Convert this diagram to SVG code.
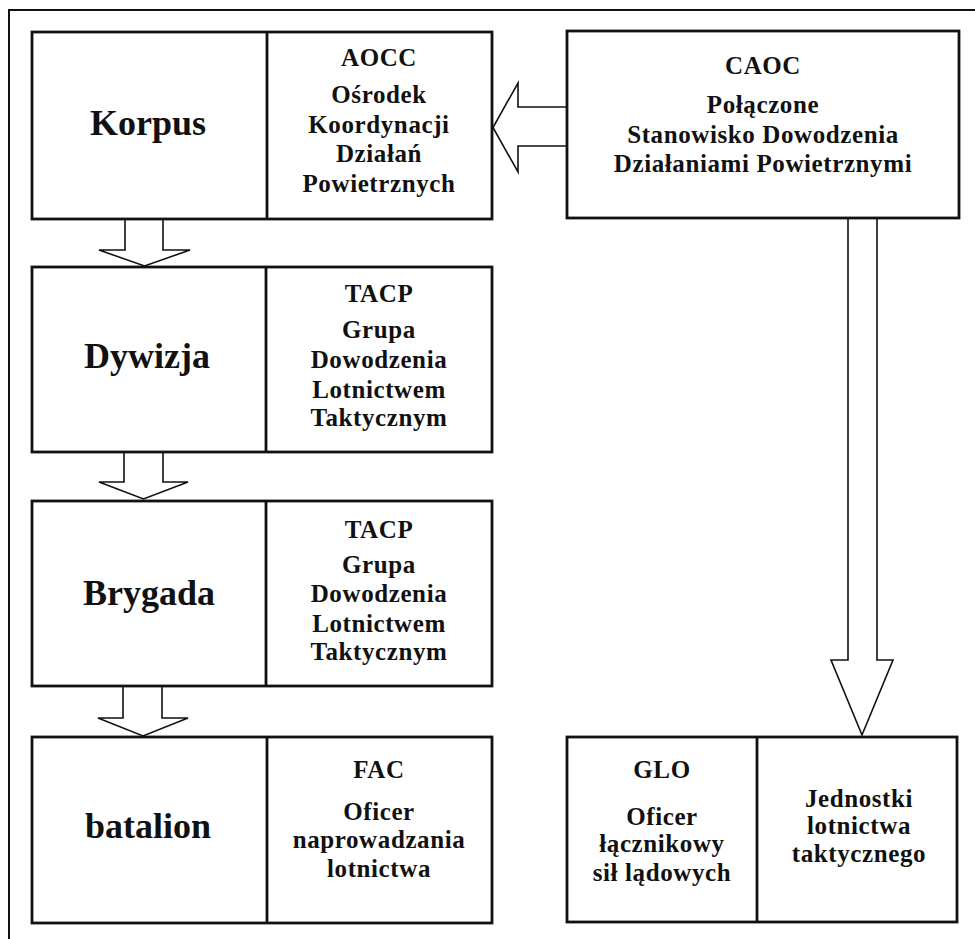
<svg xmlns="http://www.w3.org/2000/svg" width="975" height="939" viewBox="0 0 975 939">
<style>
.box{fill:#fff;stroke:#111;stroke-width:2.8}
.div{stroke:#111;stroke-width:2.8}
.arr{fill:#fff;stroke:#111;stroke-width:1.6;stroke-linejoin:miter}
.frame{fill:none;stroke:#111;stroke-width:2}
text{font-family:"Liberation Serif","DejaVu Serif",serif;font-weight:bold;fill:#111;text-anchor:middle}
.big{font-size:36px}
.sm{font-size:25px;letter-spacing:0.6px}
</style>
<rect width="975" height="939" fill="#fff"/>
<path class="frame" d="M9,939 V10 H975"/>
<g id="connectors">
<path class="arr" d="M125,219 V250 H99 L144.5,266 L190,250 H163 V219"/>
<path class="arr" d="M124,452 V482 H99 L143.5,499 L188,482 H163 V452"/>
<path class="arr" d="M123,686 V718 H98 L143,736 L188,718 H162 V686"/>
<path class="arr" d="M567,107 H518 V83 L493,127.5 L518,172 V146 H567"/>
<path class="arr" d="M848,218 V660 H831 L862,735 L893,660 H877 V218"/>
</g>
<g id="korpus">
<rect class="box" x="32" y="32" width="460" height="187"/>
<line class="div" x1="267" y1="32" x2="267" y2="219"/>
<text class="big" x="148" y="135">Korpus</text>
<text class="sm" x="379" y="66">AOCC</text>
<text class="sm" x="379" y="103">Ośrodek</text>
<text class="sm" x="379" y="133">Koordynacji</text>
<text class="sm" x="379" y="162">Działań</text>
<text class="sm" x="379" y="192">Powietrznych</text>
</g>
<g id="caoc">
<rect class="box" x="567" y="31" width="392" height="187"/>
<text class="sm" x="763" y="74">CAOC</text>
<text class="sm" x="763" y="113">Połączone</text>
<text class="sm" x="763" y="143">Stanowisko Dowodzenia</text>
<text class="sm" x="763" y="172">Działaniami Powietrznymi</text>
</g>
<g id="dywizja">
<rect class="box" x="32" y="267" width="460" height="185"/>
<line class="div" x1="266" y1="267" x2="266" y2="452"/>
<text class="big" x="147" y="368">Dywizja</text>
<text class="sm" x="379" y="302">TACP</text>
<text class="sm" x="379" y="338">Grupa</text>
<text class="sm" x="379" y="368">Dowodzenia</text>
<text class="sm" x="379" y="398">Lotnictwem</text>
<text class="sm" x="379" y="426">Taktycznym</text>
</g>
<g id="brygada">
<rect class="box" x="32" y="501" width="460" height="185"/>
<line class="div" x1="266" y1="501" x2="266" y2="686"/>
<text class="big" x="149" y="605">Brygada</text>
<text class="sm" x="379" y="538">TACP</text>
<text class="sm" x="379" y="573">Grupa</text>
<text class="sm" x="379" y="602">Dowodzenia</text>
<text class="sm" x="379" y="632">Lotnictwem</text>
<text class="sm" x="379" y="660">Taktycznym</text>
</g>
<g id="batalion">
<rect class="box" x="32" y="737" width="460" height="186"/>
<line class="div" x1="267" y1="737" x2="267" y2="923"/>
<text class="big" x="148" y="838">batalion</text>
<text class="sm" x="379" y="778">FAC</text>
<text class="sm" x="379" y="820">Oficer</text>
<text class="sm" x="379" y="848">naprowadzania</text>
<text class="sm" x="379" y="877">lotnictwa</text>
</g>
<g id="glo">
<rect class="box" x="567" y="737" width="390" height="185"/>
<line class="div" x1="757" y1="737" x2="757" y2="922"/>
<text class="sm" x="662" y="778">GLO</text>
<text class="sm" x="662" y="825">Oficer</text>
<text class="sm" x="662" y="852">łącznikowy</text>
<text class="sm" x="662" y="881">sił lądowych</text>
<text class="sm" x="859" y="807">Jednostki</text>
<text class="sm" x="859" y="834">lotnictwa</text>
<text class="sm" x="859" y="862">taktycznego</text>
</g>
</svg>
